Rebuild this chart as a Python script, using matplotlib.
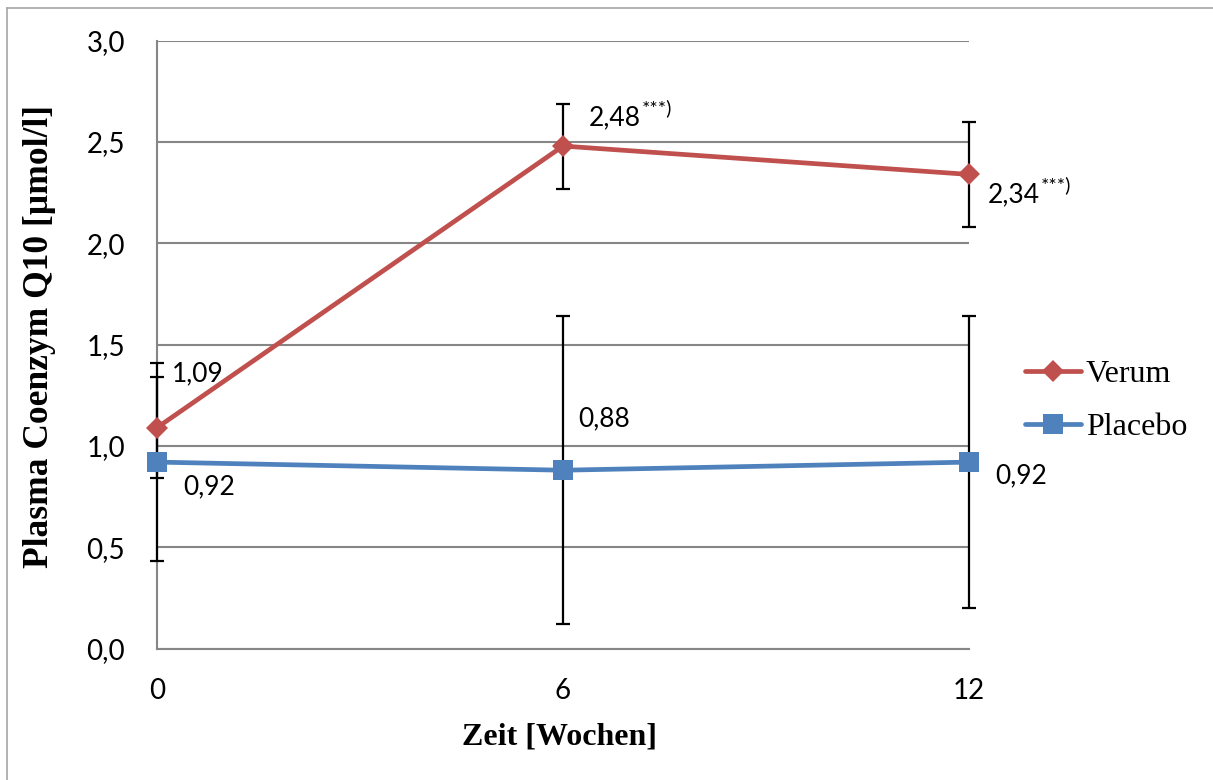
import matplotlib
matplotlib.use("Agg")
import matplotlib.pyplot as plt
from matplotlib.lines import Line2D

# Study data: plasma coenzyme Q10 over time
weeks = [0, 6, 12]
week_labels = ["0", "6", "12"]
verum = [1.09, 2.48, 2.34]
verum_err = [0.25, 0.21, 0.26]
placebo = [0.92, 0.88, 0.92]
placebo_err = [0.49, 0.76, 0.72]
verum_sig = ["", "***)", "***)"]
y_ticks = [0.0, 0.5, 1.0, 1.5, 2.0, 2.5, 3.0]

RED = "#C0504D"
BLUE = "#4F81BD"
GRID = "#868686"
SANS = "Lato"
SERIF = "Liberation Serif"

W, H = 1213, 780
fig = plt.figure(figsize=(W / 100, H / 100), dpi=100)
ax = fig.add_axes([157 / W, 1 - 648.5 / H, (969 - 157) / W, (648.5 - 40.7) / H])

# error bars beneath the lines and markers
for vals, errs in ((verum, verum_err), (placebo, placebo_err)):
    eb = ax.errorbar(weeks, vals, yerr=errs, fmt="none", ecolor="black",
                     elinewidth=1.6, capsize=5, capthick=1.6, zorder=3)
    for art in eb.lines[1] + eb.lines[2]:
        art.set_clip_on(False)

ax.plot(weeks, verum, color=RED, lw=3.4, marker="D", markersize=11,
        markeredgewidth=0, label="Verum", zorder=4, solid_capstyle="round",
        clip_on=False)
ax.plot(weeks, placebo, color=BLUE, lw=3.4, marker="s", markersize=14,
        markeredgewidth=0, label="Placebo", zorder=4, solid_capstyle="round",
        clip_on=False)

ax.set_xlim(0, 12)
ax.set_ylim(0, 3)
ax.set_xticks(weeks)
ax.set_xticklabels(week_labels)
ax.set_yticks(y_ticks)
ax.set_yticklabels([f"{v:.1f}".replace(".", ",") for v in y_ticks])
ax.tick_params(axis="both", length=0, labelsize=20)
ax.tick_params(axis="y", pad=23)
ax.tick_params(axis="x", pad=21)
for lab in ax.get_xticklabels() + ax.get_yticklabels():
    lab.set_fontfamily(SANS)

ax.grid(axis="y", color=GRID, lw=1.5)
ax.set_axisbelow(True)
for side in ("top", "right"):
    ax.spines[side].set_visible(False)
for side in ("left", "bottom"):
    ax.spines[side].set_color(GRID)
    ax.spines[side].set_linewidth(1.5)

def fmt(v):
    return f"{v:.2f}".replace(".", ",")

# value labels (offsets in pixels from each point)
verum_off = [(15, 54), (26, 28), (19, -20)]
placebo_off = [(26, -25), (15, 51), (26, -14)]
for x, v, sig, off in zip(weeks, verum, verum_sig, verum_off):
    t = ax.annotate(fmt(v), (x, v), xytext=off, textcoords="offset pixels",
                    ha="left", va="center", fontsize=19, family=SANS, zorder=6)
    if sig:
        ax.annotate(sig, xy=(1, 1), xycoords=t, xytext=(1, 6),
                    textcoords="offset pixels", ha="left", va="top",
                    fontsize=14, family=SANS)
for x, v, off in zip(weeks, placebo, placebo_off):
    ax.annotate(fmt(v), (x, v), xytext=off, textcoords="offset pixels",
                ha="left", va="center", fontsize=19, family=SANS, zorder=6)

fig.text(560 / W, 1 - 737 / H, "Zeit [Wochen]", ha="center", va="center",
         fontsize=23, fontweight="bold", family=SERIF)
fig.text(40 / W, 1 - 336 / H, "Plasma Coenzym Q10 [µmol/l]", ha="center",
         va="center", rotation=90, fontsize=25.5, fontweight="bold", family=SERIF)

fig.legend(loc="center left", bbox_to_anchor=(1025 / W, 1 - 401 / H),
           frameon=False, borderpad=0, borderaxespad=0, handlelength=1.75,
           handletextpad=0.15, labelspacing=0.72,
           prop={"family": SERIF, "size": 23})

# outer chart frame (left and top edges)
fig.add_artist(Line2D([7 / W, 7 / W], [0, 1 - 8 / H], transform=fig.transFigure,
                      color="#A6A6A6", lw=1.2))
fig.add_artist(Line2D([7 / W, 1], [1 - 8 / H, 1 - 8 / H], transform=fig.transFigure,
                      color="#A6A6A6", lw=1.2))

fig.savefig("out.png", dpi=100)
